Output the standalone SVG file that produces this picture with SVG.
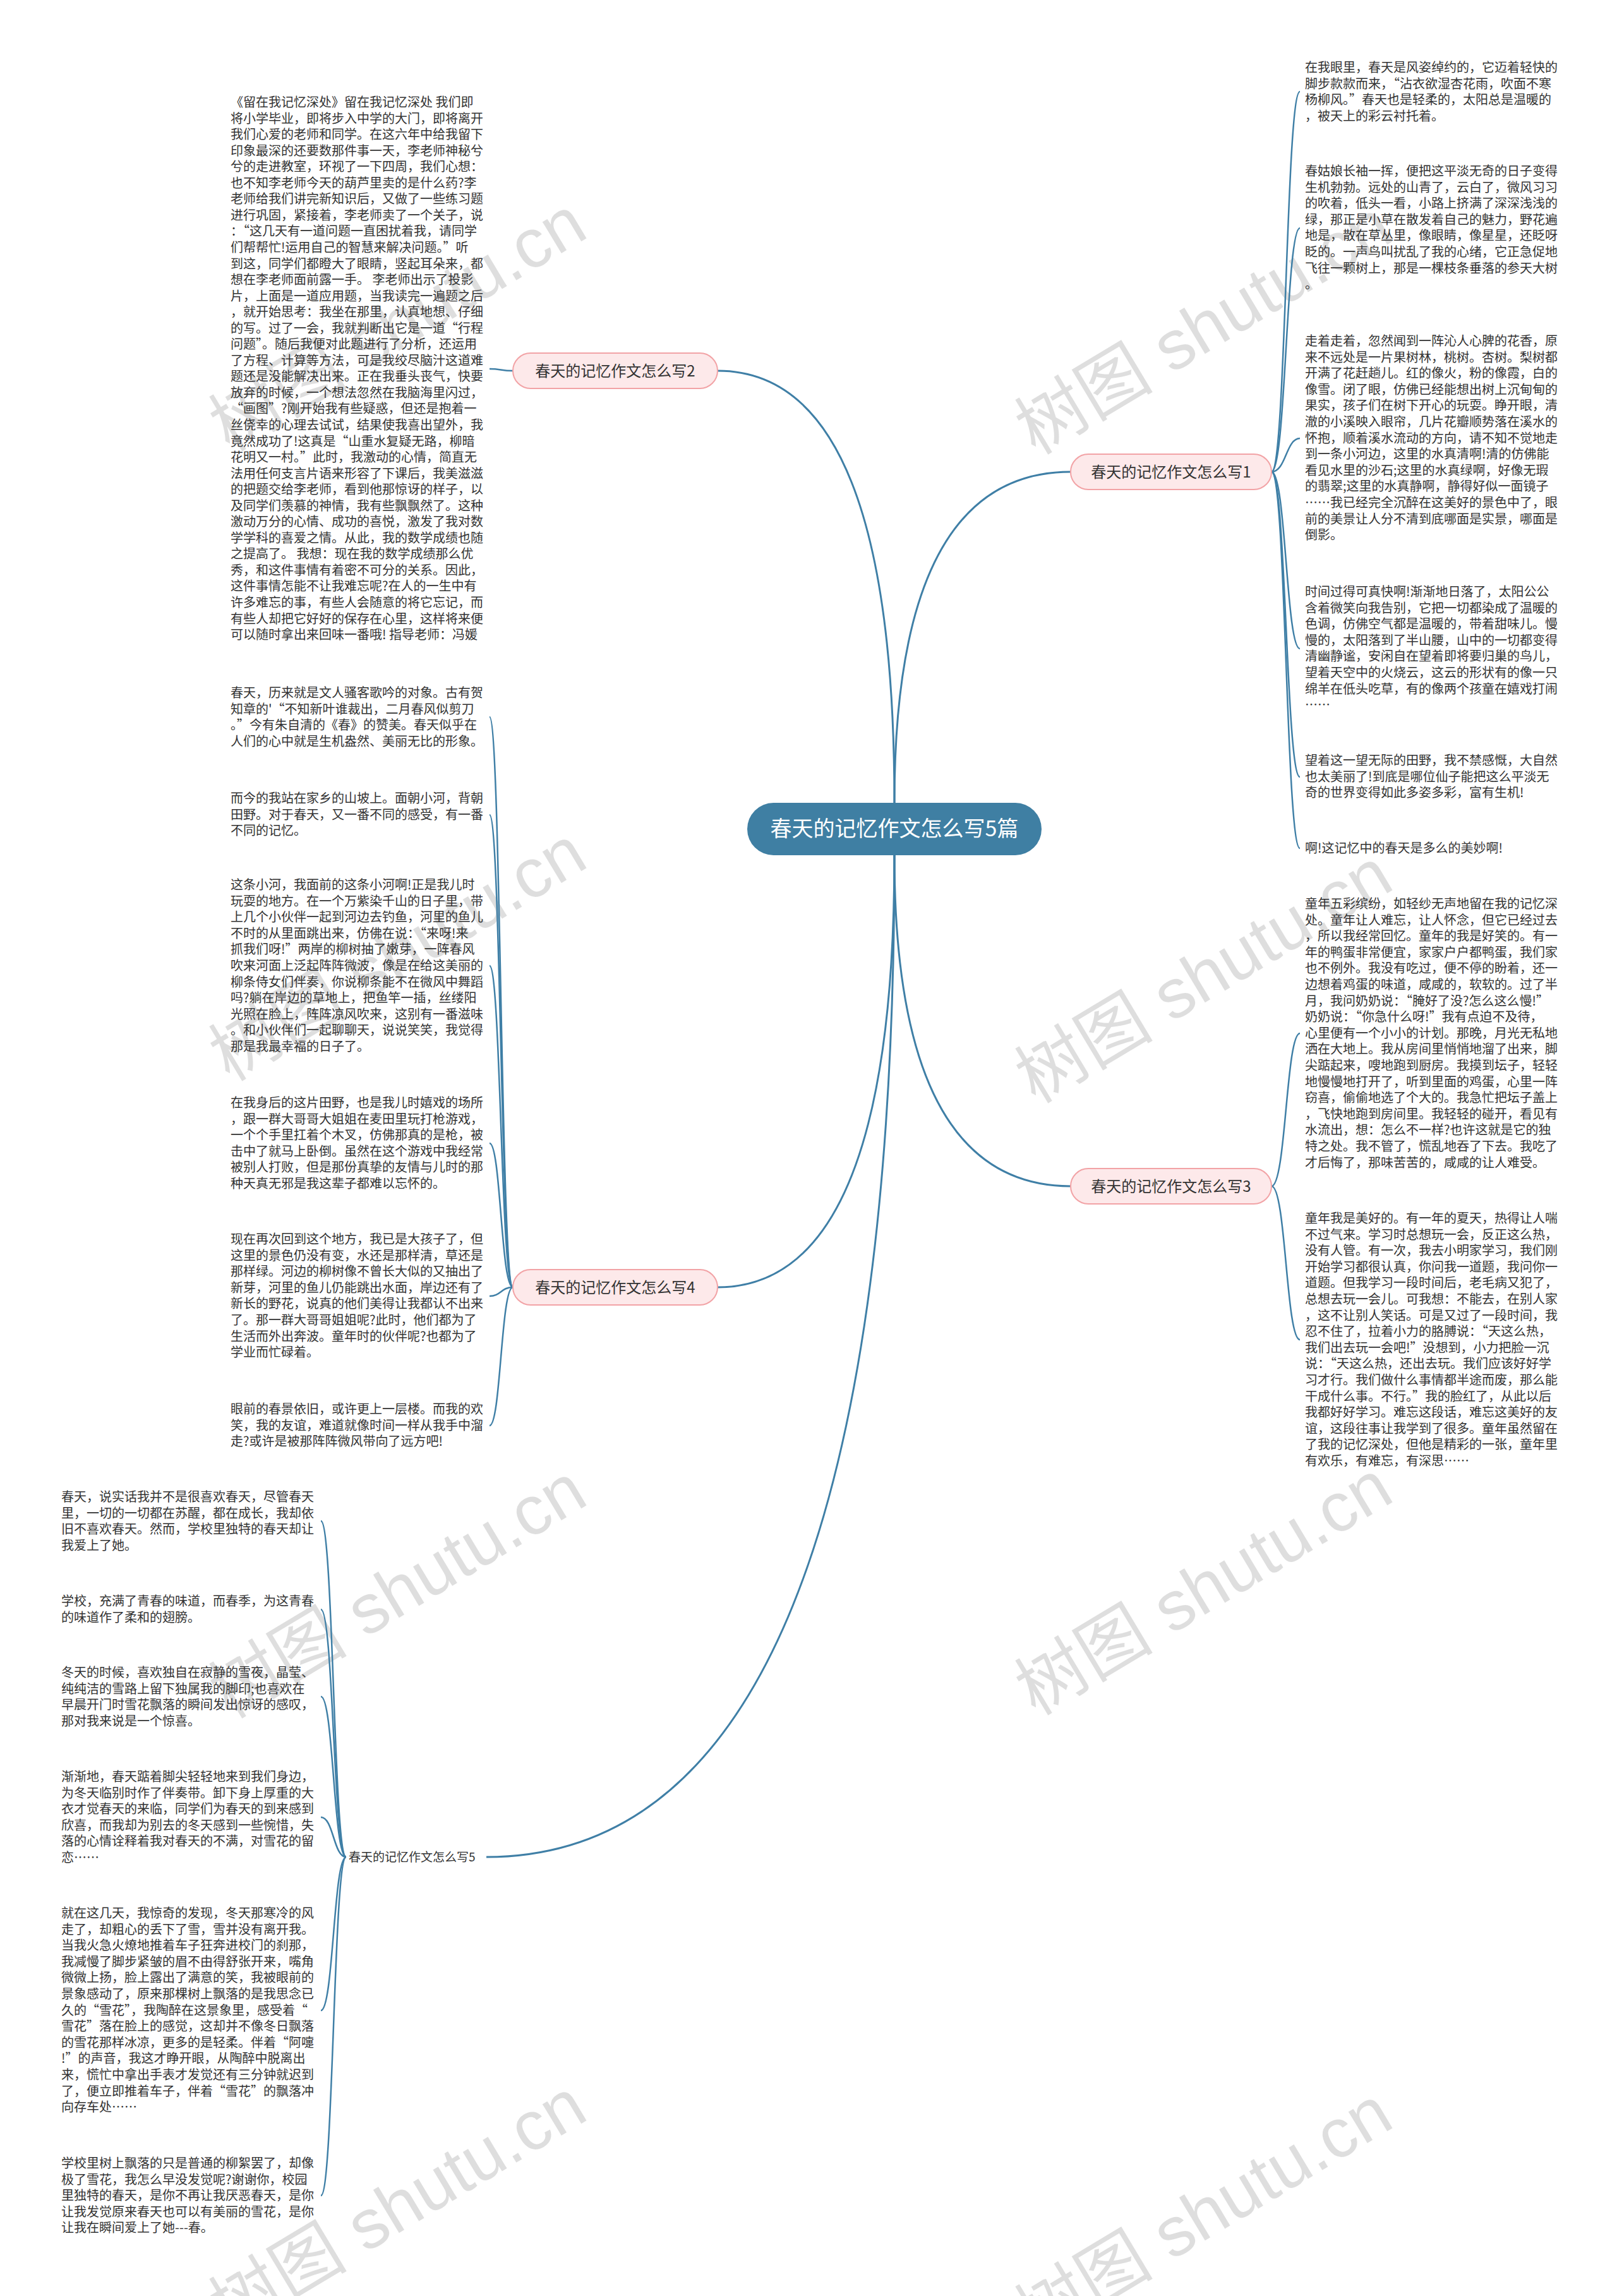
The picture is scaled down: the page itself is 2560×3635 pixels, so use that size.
<svg xmlns="http://www.w3.org/2000/svg" width="2560" height="3635" viewBox="0 0 2560 3635">
<style>
.t{font-family:"Noto Sans CJK SC","Liberation Sans",sans-serif;font-size:20px;fill:#333}
.br{font-family:"Noto Sans CJK SC","Liberation Sans",sans-serif;font-size:24px;fill:#333}
.ctr{font-family:"Noto Sans CJK SC","Liberation Sans",sans-serif;font-size:34px;fill:#fff}
.c{fill:none;stroke:#3f7fa6;stroke-width:2.5}
.cm{fill:none;stroke:#3f7fa6;stroke-width:3}
.pill{fill:#fde9ea;stroke:#f2a3a6;stroke-width:2}
.wm{font-family:"Liberation Sans","Noto Sans CJK SC",sans-serif;font-size:110px;fill:#000;fill-opacity:0.13}
</style>
<rect width="2560" height="3635" fill="#fff"/>
<g id="watermarks">
<text class="wm" text-anchor="middle" transform="translate(649,545) rotate(-31)">树图 shutu.cn</text>
<text class="wm" text-anchor="middle" transform="translate(1925,550) rotate(-31)">树图 shutu.cn</text>
<text class="wm" text-anchor="middle" transform="translate(649,1542) rotate(-31)">树图 shutu.cn</text>
<text class="wm" text-anchor="middle" transform="translate(1925,1577) rotate(-31)">树图 shutu.cn</text>
<text class="wm" text-anchor="middle" transform="translate(649,2551) rotate(-31)">树图 shutu.cn</text>
<text class="wm" text-anchor="middle" transform="translate(1925,2546) rotate(-31)">树图 shutu.cn</text>
<text class="wm" text-anchor="middle" transform="translate(649,3525) rotate(-31)">树图 shutu.cn</text>
<text class="wm" text-anchor="middle" transform="translate(1925,3537) rotate(-31)">树图 shutu.cn</text>
</g>
<g id="connectors">
<path class="cm" d="M1416 1271 Q1416 587 1136 587"/>
<path class="cm" d="M1416 1271 Q1416 747 1695 747"/>
<path class="cm" d="M1416 1354 Q1416 1878 1695 1878"/>
<path class="cm" d="M1416 1354 Q1416 2038 1136 2038"/>
<path class="cm" d="M1416 1354 Q1416 2940 770 2940"/>
<path class="c" d="M812 587 C793 587 793 584 775 584"/>
<path class="c" d="M2013 747 C2036 747 2036 145 2058 145"/>
<path class="c" d="M2013 747 C2036 747 2036 361 2058 361"/>
<path class="c" d="M2013 747 C2036 747 2036 694 2058 694"/>
<path class="c" d="M2013 747 C2036 747 2036 1027 2058 1027"/>
<path class="c" d="M2013 747 C2036 747 2036 1230 2058 1230"/>
<path class="c" d="M2013 747 C2036 747 2036 1343 2058 1343"/>
<path class="c" d="M2013 1878 C2036 1878 2036 1636 2058 1636"/>
<path class="c" d="M2013 1878 C2036 1878 2036 2121 2058 2121"/>
<path class="c" d="M812 2038 C793 2038 793 1135 775 1135"/>
<path class="c" d="M812 2038 C793 2038 793 1290 775 1290"/>
<path class="c" d="M812 2038 C793 2038 793 1529 775 1529"/>
<path class="c" d="M812 2038 C793 2038 793 1810 775 1810"/>
<path class="c" d="M812 2038 C793 2038 793 2052 775 2052"/>
<path class="c" d="M812 2038 C793 2038 793 2257 775 2257"/>
<path class="c" d="M548 2940 C528 2940 528 2408 508 2408"/>
<path class="c" d="M548 2940 C528 2940 528 2548 508 2548"/>
<path class="c" d="M548 2940 C528 2940 528 2686 508 2686"/>
<path class="c" d="M548 2940 C528 2940 528 2877 508 2877"/>
<path class="c" d="M548 2940 C528 2940 528 3183 508 3183"/>
<path class="c" d="M548 2940 C528 2940 528 3476 508 3476"/>
</g>
<g id="center">
<rect x="1183" y="1271" width="466" height="83" rx="41.5" fill="#3f7fa3"/>
<text class="ctr" x="1416" y="1324" text-anchor="middle">春天的记忆作文怎么写5篇</text>
</g>
<g id="branch2">
<rect class="pill" x="812" y="559" width="324" height="56" rx="28"/>
<text class="br" x="974" y="596" text-anchor="middle">春天的记忆作文怎么写2</text>
</g>
<g id="branch1">
<rect class="pill" x="1695" y="719" width="318" height="56" rx="28"/>
<text class="br" x="1854" y="756" text-anchor="middle">春天的记忆作文怎么写1</text>
</g>
<g id="branch3">
<rect class="pill" x="1695" y="1850" width="318" height="56" rx="28"/>
<text class="br" x="1854" y="1887" text-anchor="middle">春天的记忆作文怎么写3</text>
</g>
<g id="branch4">
<rect class="pill" x="812" y="2010" width="324" height="56" rx="28"/>
<text class="br" x="974" y="2047" text-anchor="middle">春天的记忆作文怎么写4</text>
</g>
<g id="branch5">
<text class="t" x="552" y="2947" style="font-size:19px">春天的记忆作文怎么写5</text>
</g>
<g id="b2-text">
<text class="t" x="365" y="169">
<tspan x="365">《留在我记忆深处》留在我记忆深处 我们即</tspan>
<tspan x="365" dy="25.55">将小学毕业，即将步入中学的大门，即将离开</tspan>
<tspan x="365" dy="25.55">我们心爱的老师和同学。在这六年中给我留下</tspan>
<tspan x="365" dy="25.55">印象最深的还要数那件事一天，李老师神秘兮</tspan>
<tspan x="365" dy="25.55">兮的走进教室，环视了一下四周，我们心想：</tspan>
<tspan x="365" dy="25.55">也不知李老师今天的葫芦里卖的是什么药?李</tspan>
<tspan x="365" dy="25.55">老师给我们讲完新知识后，又做了一些练习题</tspan>
<tspan x="365" dy="25.55">进行巩固，紧接着，李老师卖了一个关子，说</tspan>
<tspan x="365" dy="25.55">：“这几天有一道问题一直困扰着我，请同学</tspan>
<tspan x="365" dy="25.55">们帮帮忙!运用自己的智慧来解决问题。”听</tspan>
<tspan x="365" dy="25.55">到这，同学们都瞪大了眼睛，竖起耳朵来，都</tspan>
<tspan x="365" dy="25.55">想在李老师面前露一手。 李老师出示了投影</tspan>
<tspan x="365" dy="25.55">片，上面是一道应用题，当我读完一遍题之后</tspan>
<tspan x="365" dy="25.55">，就开始思考：我坐在那里，认真地想、仔细</tspan>
<tspan x="365" dy="25.55">的写。过了一会，我就判断出它是一道“行程</tspan>
<tspan x="365" dy="25.55">问题”。随后我便对此题进行了分析，还运用</tspan>
<tspan x="365" dy="25.55">了方程、计算等方法，可是我绞尽脑汁这道难</tspan>
<tspan x="365" dy="25.55">题还是没能解决出来。正在我垂头丧气，快要</tspan>
<tspan x="365" dy="25.55">放弃的时候，一个想法忽然在我脑海里闪过，</tspan>
<tspan x="365" dy="25.55">“画图”?刚开始我有些疑惑，但还是抱着一</tspan>
<tspan x="365" dy="25.55">丝侥幸的心理去试试，结果使我喜出望外，我</tspan>
<tspan x="365" dy="25.55">竟然成功了!这真是“山重水复疑无路，柳暗</tspan>
<tspan x="365" dy="25.55">花明又一村。”此时，我激动的心情，简直无</tspan>
<tspan x="365" dy="25.55">法用任何支言片语来形容了下课后，我美滋滋</tspan>
<tspan x="365" dy="25.55">的把题交给李老师，看到他那惊讶的样子，以</tspan>
<tspan x="365" dy="25.55">及同学们羡慕的神情，我有些飘飘然了。这种</tspan>
<tspan x="365" dy="25.55">激动万分的心情、成功的喜悦，激发了我对数</tspan>
<tspan x="365" dy="25.55">学学科的喜爱之情。从此，我的数学成绩也随</tspan>
<tspan x="365" dy="25.55">之提高了。 我想：现在我的数学成绩那么优</tspan>
<tspan x="365" dy="25.55">秀，和这件事情有着密不可分的关系。因此，</tspan>
<tspan x="365" dy="25.55">这件事情怎能不让我难忘呢?在人的一生中有</tspan>
<tspan x="365" dy="25.55">许多难忘的事，有些人会随意的将它忘记，而</tspan>
<tspan x="365" dy="25.55">有些人却把它好好的保存在心里，这样将来便</tspan>
<tspan x="365" dy="25.55">可以随时拿出来回味一番哦! 指导老师：冯媛</tspan>
</text>
</g>
<g id="b4-text">
<text class="t" y="1104">
<tspan x="365">春天，历来就是文人骚客歌吟的对象。古有贺</tspan>
<tspan x="365" dy="25.6">知章的'“不知新叶谁裁出，二月春风似剪刀</tspan>
<tspan x="365" dy="25.6">。”今有朱自清的《春》的赞美。春天似乎在</tspan>
<tspan x="365" dy="25.6">人们的心中就是生机盎然、美丽无比的形象。</tspan>
</text>
<text class="t" y="1271">
<tspan x="365">而今的我站在家乡的山坡上。面朝小河，背朝</tspan>
<tspan x="365" dy="25.6">田野。对于春天，又一番不同的感受，有一番</tspan>
<tspan x="365" dy="25.6">不同的记忆。</tspan>
</text>
<text class="t" y="1408">
<tspan x="365">这条小河，我面前的这条小河啊!正是我儿时</tspan>
<tspan x="365" dy="25.6">玩耍的地方。在一个万紫染千山的日子里，带</tspan>
<tspan x="365" dy="25.6">上几个小伙伴一起到河边去钓鱼，河里的鱼儿</tspan>
<tspan x="365" dy="25.6">不时的从里面跳出来，仿佛在说：“来呀!来</tspan>
<tspan x="365" dy="25.6">抓我们呀!”两岸的柳树抽了嫩芽，一阵春风</tspan>
<tspan x="365" dy="25.6">吹来河面上泛起阵阵微波，像是在给这美丽的</tspan>
<tspan x="365" dy="25.6">柳条侍女们伴奏，你说柳条能不在微风中舞蹈</tspan>
<tspan x="365" dy="25.6">吗?躺在岸边的草地上，把鱼竿一插，丝缕阳</tspan>
<tspan x="365" dy="25.6">光照在脸上，阵阵凉风吹来，这别有一番滋味</tspan>
<tspan x="365" dy="25.6">。和小伙伴们一起聊聊天，说说笑笑，我觉得</tspan>
<tspan x="365" dy="25.6">那是我最幸福的日子了。</tspan>
</text>
<text class="t" y="1753">
<tspan x="365">在我身后的这片田野，也是我儿时嬉戏的场所</tspan>
<tspan x="365" dy="25.6">，跟一群大哥哥大姐姐在麦田里玩打枪游戏，</tspan>
<tspan x="365" dy="25.6">一个个手里扛着个木叉，仿佛那真的是枪，被</tspan>
<tspan x="365" dy="25.6">击中了就马上卧倒。虽然在这个游戏中我经常</tspan>
<tspan x="365" dy="25.6">被别人打败，但是那份真挚的友情与儿时的那</tspan>
<tspan x="365" dy="25.6">种天真无邪是我这辈子都难以忘怀的。</tspan>
</text>
<text class="t" y="1969">
<tspan x="365">现在再次回到这个地方，我已是大孩子了，但</tspan>
<tspan x="365" dy="25.6">这里的景色仍没有变，水还是那样清，草还是</tspan>
<tspan x="365" dy="25.6">那样绿。河边的柳树像不曾长大似的又抽出了</tspan>
<tspan x="365" dy="25.6">新芽，河里的鱼儿仍能跳出水面，岸边还有了</tspan>
<tspan x="365" dy="25.6">新长的野花，说真的他们美得让我都认不出来</tspan>
<tspan x="365" dy="25.6">了。那一群大哥哥姐姐呢?此时，他们都为了</tspan>
<tspan x="365" dy="25.6">生活而外出奔波。童年时的伙伴呢?也都为了</tspan>
<tspan x="365" dy="25.6">学业而忙碌着。</tspan>
</text>
<text class="t" y="2238">
<tspan x="365">眼前的春景依旧，或许更上一层楼。而我的欢</tspan>
<tspan x="365" dy="25.6">笑，我的友谊，难道就像时间一样从我手中溜</tspan>
<tspan x="365" dy="25.6">走?或许是被那阵阵微风带向了远方吧!</tspan>
</text>
</g>
<g id="b5-text">
<text class="t" y="2377">
<tspan x="97">春天，说实话我并不是很喜欢春天，尽管春天</tspan>
<tspan x="97" dy="25.6">里，一切的一切都在苏醒，都在成长，我却依</tspan>
<tspan x="97" dy="25.6">旧不喜欢春天。然而，学校里独特的春天却让</tspan>
<tspan x="97" dy="25.6">我爱上了她。</tspan>
</text>
<text class="t" y="2542">
<tspan x="97">学校，充满了青春的味道，而春季，为这青春</tspan>
<tspan x="97" dy="25.6">的味道作了柔和的翅膀。</tspan>
</text>
<text class="t" y="2655">
<tspan x="97">冬天的时候，喜欢独自在寂静的雪夜，晶莹、</tspan>
<tspan x="97" dy="25.6">纯纯洁的雪路上留下独属我的脚印;也喜欢在</tspan>
<tspan x="97" dy="25.6">早晨开门时雪花飘落的瞬间发出惊讶的感叹，</tspan>
<tspan x="97" dy="25.6">那对我来说是一个惊喜。</tspan>
</text>
<text class="t" y="2820">
<tspan x="97">渐渐地，春天踮着脚尖轻轻地来到我们身边，</tspan>
<tspan x="97" dy="25.6">为冬天临别时作了伴奏带。卸下身上厚重的大</tspan>
<tspan x="97" dy="25.6">衣才觉春天的来临，同学们为春天的到来感到</tspan>
<tspan x="97" dy="25.6">欣喜，而我却为别去的冬天感到一些惋惜，失</tspan>
<tspan x="97" dy="25.6">落的心情诠释着我对春天的不满，对雪花的留</tspan>
<tspan x="97" dy="25.6">恋……</tspan>
</text>
<text class="t" y="3036">
<tspan x="97">就在这几天，我惊奇的发现，冬天那寒冷的风</tspan>
<tspan x="97" dy="25.6">走了，却粗心的丢下了雪，雪并没有离开我。</tspan>
<tspan x="97" dy="25.6">当我火急火燎地推着车子狂奔进校门的刹那，</tspan>
<tspan x="97" dy="25.6">我减慢了脚步紧皱的眉不由得舒张开来，嘴角</tspan>
<tspan x="97" dy="25.6">微微上扬，脸上露出了满意的笑，我被眼前的</tspan>
<tspan x="97" dy="25.6">景象感动了，原来那棵树上飘落的是我思念已</tspan>
<tspan x="97" dy="25.6">久的“雪花”，我陶醉在这景象里，感受着“</tspan>
<tspan x="97" dy="25.6">雪花”落在脸上的感觉，这却并不像冬日飘落</tspan>
<tspan x="97" dy="25.6">的雪花那样冰凉，更多的是轻柔。伴着“阿嚏</tspan>
<tspan x="97" dy="25.6">!”的声音，我这才睁开眼，从陶醉中脱离出</tspan>
<tspan x="97" dy="25.6">来，慌忙中拿出手表才发觉还有三分钟就迟到</tspan>
<tspan x="97" dy="25.6">了，便立即推着车子，伴着“雪花”的飘落冲</tspan>
<tspan x="97" dy="25.6">向存车处……</tspan>
</text>
<text class="t" y="3432">
<tspan x="97">学校里树上飘落的只是普通的柳絮罢了，却像</tspan>
<tspan x="97" dy="25.6">极了雪花，我怎么早没发觉呢?谢谢你，校园</tspan>
<tspan x="97" dy="25.6">里独特的春天，是你不再让我厌恶春天，是你</tspan>
<tspan x="97" dy="25.6">让我发觉原来春天也可以有美丽的雪花，是你</tspan>
<tspan x="97" dy="25.6">让我在瞬间爱上了她---春。</tspan>
</text>
</g>
<g id="b1-text">
<text class="t" y="114">
<tspan x="2066">在我眼里，春天是风姿绰约的，它迈着轻快的</tspan>
<tspan x="2066" dy="25.6">脚步款款而来，“沾衣欲湿杏花雨，吹面不寒</tspan>
<tspan x="2066" dy="25.6">杨柳风。”春天也是轻柔的，太阳总是温暖的</tspan>
<tspan x="2066" dy="25.6">，被天上的彩云衬托着。</tspan>
</text>
<text class="t" y="278">
<tspan x="2066">春姑娘长袖一挥，便把这平淡无奇的日子变得</tspan>
<tspan x="2066" dy="25.6">生机勃勃。远处的山青了，云白了，微风习习</tspan>
<tspan x="2066" dy="25.6">的吹着，低头一看，小路上挤满了深深浅浅的</tspan>
<tspan x="2066" dy="25.6">绿，那正是小草在散发着自己的魅力，野花遍</tspan>
<tspan x="2066" dy="25.6">地是，散在草丛里，像眼睛，像星星，还眨呀</tspan>
<tspan x="2066" dy="25.6">眨的。一声鸟叫扰乱了我的心绪，它正急促地</tspan>
<tspan x="2066" dy="25.6">飞往一颗树上，那是一棵枝条垂落的参天大树</tspan>
<tspan x="2066" dy="25.6">。</tspan>
</text>
<text class="t" y="547">
<tspan x="2066">走着走着，忽然闻到一阵沁人心脾的花香，原</tspan>
<tspan x="2066" dy="25.6">来不远处是一片果树林，桃树。杏树。梨树都</tspan>
<tspan x="2066" dy="25.6">开满了花赶趟儿。红的像火，粉的像霞，白的</tspan>
<tspan x="2066" dy="25.6">像雪。闭了眼，仿佛已经能想出树上沉甸甸的</tspan>
<tspan x="2066" dy="25.6">果实，孩子们在树下开心的玩耍。睁开眼，清</tspan>
<tspan x="2066" dy="25.6">澈的小溪映入眼帘，几片花瓣顺势落在溪水的</tspan>
<tspan x="2066" dy="25.6">怀抱，顺着溪水流动的方向，请不知不觉地走</tspan>
<tspan x="2066" dy="25.6">到一条小河边，这里的水真清啊!清的仿佛能</tspan>
<tspan x="2066" dy="25.6">看见水里的沙石;这里的水真绿啊，好像无瑕</tspan>
<tspan x="2066" dy="25.6">的翡翠;这里的水真静啊，静得好似一面镜子</tspan>
<tspan x="2066" dy="25.6">……我已经完全沉醉在这美好的景色中了，眼</tspan>
<tspan x="2066" dy="25.6">前的美景让人分不清到底哪面是实景，哪面是</tspan>
<tspan x="2066" dy="25.6">倒影。</tspan>
</text>
<text class="t" y="944">
<tspan x="2066">时间过得可真快啊!渐渐地日落了，太阳公公</tspan>
<tspan x="2066" dy="25.6">含着微笑向我告别，它把一切都染成了温暖的</tspan>
<tspan x="2066" dy="25.6">色调，仿佛空气都是温暖的，带着甜味儿。慢</tspan>
<tspan x="2066" dy="25.6">慢的，太阳落到了半山腰，山中的一切都变得</tspan>
<tspan x="2066" dy="25.6">清幽静谧，安闲自在望着即将要归巢的鸟儿，</tspan>
<tspan x="2066" dy="25.6">望着天空中的火烧云，这云的形状有的像一只</tspan>
<tspan x="2066" dy="25.6">绵羊在低头吃草，有的像两个孩童在嬉戏打闹</tspan>
<tspan x="2066" dy="25.6">……</tspan>
</text>
<text class="t" y="1211">
<tspan x="2066">望着这一望无际的田野，我不禁感慨，大自然</tspan>
<tspan x="2066" dy="25.6">也太美丽了!到底是哪位仙子能把这么平淡无</tspan>
<tspan x="2066" dy="25.6">奇的世界变得如此多姿多彩，富有生机!</tspan>
</text>
<text class="t" x="2066" y="1350">啊!这记忆中的春天是多么的美妙啊!</text>
</g>
<g id="b3-text">
<text class="t" y="1438">
<tspan x="2066">童年五彩缤纷，如轻纱无声地留在我的记忆深</tspan>
<tspan x="2066" dy="25.6">处。童年让人难忘，让人怀念，但它已经过去</tspan>
<tspan x="2066" dy="25.6">，所以我经常回忆。童年的我是好笑的。有一</tspan>
<tspan x="2066" dy="25.6">年的鸭蛋非常便宜，家家户户都鸭蛋，我们家</tspan>
<tspan x="2066" dy="25.6">也不例外。我没有吃过，便不停的盼着，还一</tspan>
<tspan x="2066" dy="25.6">边想着鸡蛋的味道，咸咸的，软软的。过了半</tspan>
<tspan x="2066" dy="25.6">月，我问奶奶说：“腌好了没?怎么这么慢!”</tspan>
<tspan x="2066" dy="25.6">奶奶说：“你急什么呀!”我有点迫不及待，</tspan>
<tspan x="2066" dy="25.6">心里便有一个小小的计划。那晚，月光无私地</tspan>
<tspan x="2066" dy="25.6">洒在大地上。我从房间里悄悄地溜了出来，脚</tspan>
<tspan x="2066" dy="25.6">尖踮起来，嗖地跑到厨房。我摸到坛子，轻轻</tspan>
<tspan x="2066" dy="25.6">地慢慢地打开了，听到里面的鸡蛋，心里一阵</tspan>
<tspan x="2066" dy="25.6">窃喜，偷偷地选了个大的。我急忙把坛子盖上</tspan>
<tspan x="2066" dy="25.6">，飞快地跑到房间里。我轻轻的碰开，看见有</tspan>
<tspan x="2066" dy="25.6">水流出，想：怎么不一样?也许这就是它的独</tspan>
<tspan x="2066" dy="25.6">特之处。我不管了，慌乱地吞了下去。我吃了</tspan>
<tspan x="2066" dy="25.6">才后悔了，那味苦苦的，咸咸的让人难受。</tspan>
</text>
<text class="t" y="1936">
<tspan x="2066">童年我是美好的。有一年的夏天，热得让人喘</tspan>
<tspan x="2066" dy="25.6">不过气来。学习时总想玩一会，反正这么热，</tspan>
<tspan x="2066" dy="25.6">没有人管。有一次，我去小明家学习，我们刚</tspan>
<tspan x="2066" dy="25.6">开始学习都很认真，你问我一道题，我问你一</tspan>
<tspan x="2066" dy="25.6">道题。但我学习一段时间后，老毛病又犯了，</tspan>
<tspan x="2066" dy="25.6">总想去玩一会儿。可我想：不能去，在别人家</tspan>
<tspan x="2066" dy="25.6">，这不让别人笑话。可是又过了一段时间，我</tspan>
<tspan x="2066" dy="25.6">忍不住了，拉着小力的胳膊说：“天这么热，</tspan>
<tspan x="2066" dy="25.6">我们出去玩一会吧!”没想到，小力把脸一沉</tspan>
<tspan x="2066" dy="25.6">说：“天这么热，还出去玩。我们应该好好学</tspan>
<tspan x="2066" dy="25.6">习才行。我们做什么事情都半途而废，那么能</tspan>
<tspan x="2066" dy="25.6">干成什么事。不行。”我的脸红了，从此以后</tspan>
<tspan x="2066" dy="25.6">我都好好学习。难忘这段话，难忘这美好的友</tspan>
<tspan x="2066" dy="25.6">谊，这段往事让我学到了很多。童年虽然留在</tspan>
<tspan x="2066" dy="25.6">了我的记忆深处，但他是精彩的一张，童年里</tspan>
<tspan x="2066" dy="25.6">有欢乐，有难忘，有深思……</tspan>
</text>
</g>
</svg>
